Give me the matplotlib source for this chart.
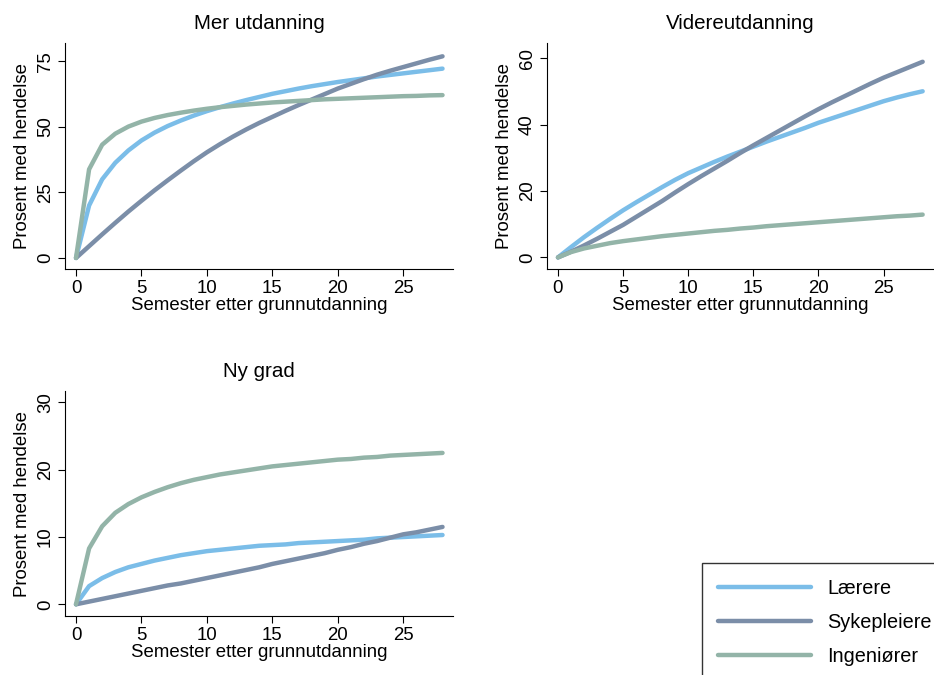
import numpy as np
import matplotlib.pyplot as plt

plt.rcParams['font.family'] = ['Liberation Sans', 'DejaVu Sans']

semester = np.arange(0, 29)

# Mer utdanning
mer_laerere = [0, 20, 30, 36.3, 41, 44.8, 47.8, 50.3, 52.4, 54.3, 56, 57.5, 58.9, 60.2, 61.4,
               62.6, 63.6, 64.6, 65.5, 66.3, 67.1, 67.8, 68.5, 69.2, 69.8, 70.4, 71, 71.6, 72.2]
mer_syk = [0, 4.5, 9, 13.4, 17.7, 21.8, 25.8, 29.6, 33.3, 36.9, 40.3, 43.4, 46.3, 49, 51.5,
           53.8, 56.1, 58.3, 60.4, 62.5, 64.6, 66.4, 68.2, 69.9, 71.4, 72.8, 74.2, 75.6, 76.9]
mer_ing = [0, 33.8, 43.2, 47.4, 50.1, 52, 53.4, 54.5, 55.4, 56.2, 56.9, 57.5, 58, 58.5, 58.9,
           59.3, 59.6, 59.9, 60.2, 60.5, 60.7, 60.9, 61.1, 61.3, 61.5, 61.7, 61.8, 62, 62.1]

# Videreutdanning
vid_laerere = [0, 3.1, 6.1, 8.9, 11.6, 14.2, 16.6, 18.9, 21.2, 23.4, 25.4, 27.1, 28.8, 30.4, 31.9,
               33.4, 34.9, 36.3, 37.7, 39.1, 40.6, 41.9, 43.2, 44.5, 45.8, 47.1, 48.2, 49.2, 50.1]
vid_syk = [0, 1.7, 3.6, 5.6, 7.7, 9.8, 12.2, 14.6, 17, 19.6, 22.1, 24.5, 26.8, 29.1, 31.5,
           33.8, 36, 38.2, 40.4, 42.6, 44.7, 46.7, 48.6, 50.5, 52.4, 54.2, 55.8, 57.4, 59]
vid_ing = [0, 1.6, 2.7, 3.5, 4.3, 4.9, 5.4, 5.9, 6.4, 6.8, 7.2, 7.6, 8, 8.3, 8.7,
           9, 9.4, 9.7, 10, 10.3, 10.6, 10.9, 11.2, 11.5, 11.8, 12.1, 12.4, 12.6, 12.9]

# Ny grad
ny_laerere = [0, 2.7, 3.9, 4.8, 5.5, 6, 6.5, 6.9, 7.3, 7.6, 7.9, 8.1, 8.3, 8.5, 8.7,
              8.8, 8.9, 9.1, 9.2, 9.3, 9.4, 9.5, 9.6, 9.8, 9.9, 10, 10.1, 10.2, 10.3]
ny_syk = [0, 0.4, 0.8, 1.2, 1.6, 2, 2.4, 2.8, 3.1, 3.5, 3.9, 4.3, 4.7, 5.1, 5.5,
          6, 6.4, 6.8, 7.2, 7.6, 8.1, 8.5, 9, 9.4, 9.9, 10.4, 10.7, 11.1, 11.5]
ny_ing = [0, 8.3, 11.6, 13.6, 14.9, 15.9, 16.7, 17.4, 18, 18.5, 18.9, 19.3, 19.6, 19.9, 20.2,
          20.5, 20.7, 20.9, 21.1, 21.3, 21.5, 21.6, 21.8, 21.9, 22.1, 22.2, 22.3, 22.4, 22.5]

grupper = ['Lærere', 'Sykepleiere', 'Ingeniører']
farger = ['#7BBDE8', '#7B8EA8', '#93B4A8']

paneler = [
    ('Mer utdanning', [mer_laerere, mer_syk, mer_ing], [0, 25, 50, 75], (-4.2, 81.9),
     [0.0696, 0.6015, 0.4154, 0.3345]),
    ('Videreutdanning', [vid_laerere, vid_syk, vid_ing], [0, 20, 40, 60], (-3.5, 64.6),
     [0.5857, 0.6015, 0.4133, 0.3345]),
    ('Ny grad', [ny_laerere, ny_syk, ny_ing], [0, 10, 20, 30], (-1.74, 31.7),
     [0.0696, 0.0874, 0.4154, 0.3333]),
]

fig = plt.figure(figsize=(9.34, 6.75), dpi=100)

for tittel, serier, yticks, ylim, pos in paneler:
    ax = fig.add_axes(pos)
    for s, f, navn in zip(serier, farger, grupper):
        ax.plot(semester, s, color=f, lw=3.2, label=navn, solid_capstyle='round')
    ax.set_xlim(-0.84, 28.8)
    ax.set_ylim(*ylim)
    ax.set_xticks([0, 5, 10, 15, 20, 25])
    ax.set_yticks(yticks)
    for lbl in ax.get_yticklabels():
        lbl.set_rotation(90)
        lbl.set_va('center')
    ax.tick_params(labelsize=13.4, length=5, width=0.8, pad=3)
    ax.spines['top'].set_visible(False)
    ax.spines['right'].set_visible(False)
    ax.set_title(tittel, fontsize=14.8, pad=10)
    ax.set_xlabel('Semester etter grunnutdanning', fontsize=13.4, labelpad=0)
    ax.set_ylabel('Prosent med hendelse', fontsize=13.4, labelpad=4)

# legendeboks nede til høyre, kuttes av figurkanten
handles, labels = ax.get_legend_handles_labels()
leg = fig.legend(handles, labels, loc='upper left', bbox_to_anchor=(702 / 934, 1 - 563 / 675),
                 fontsize=14.3, handlelength=4.7, handletextpad=0.8, labelspacing=0.75,
                 frameon=True, fancybox=False, borderpad=0.8, borderaxespad=0)
leg.get_frame().set_edgecolor('black')
leg.get_frame().set_linewidth(1)

fig.savefig('out.png', dpi=100)
